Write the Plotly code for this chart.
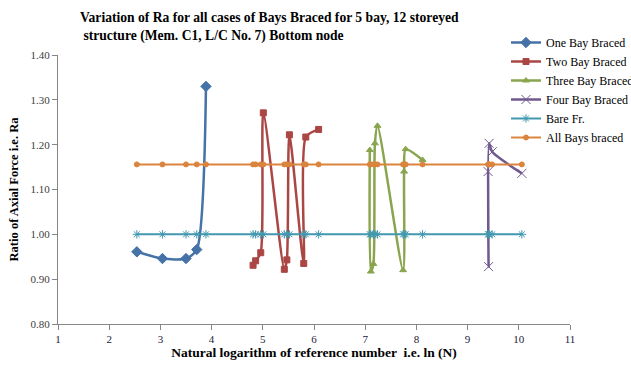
import plotly.graph_objects as go

one_x = [2.54, 3.04, 3.50, 3.71, 3.89]
one_y = [0.961, 0.946, 0.946, 0.966, 1.330]
two_x = [4.81, 4.86, 4.96, 5.01, 5.42, 5.47, 5.52, 5.80, 5.84, 6.09]
two_y = [0.931, 0.941, 0.959, 1.271, 0.922, 0.943, 1.222, 0.935, 1.217, 1.234]
three_x = [7.09, 7.11, 7.16, 7.19, 7.24, 7.74, 7.76, 7.79, 8.12]
three_y = [1.188, 0.917, 0.934, 1.203, 1.242, 0.920, 1.140, 1.190, 1.166]
four_x = [9.40, 9.41, 9.42, 9.48, 10.06]
four_y = [1.140, 0.928, 1.203, 1.184, 1.136]
bare_x = sorted(one_x + two_x + three_x + four_x)
bare_y = [1.00] * len(bare_x)
all_x = bare_x
all_y = [1.156] * len(all_x)

x_ticks = [1, 2, 3, 4, 5, 6, 7, 8, 9, 10, 11]
y_ticks = [0.80, 0.90, 1.00, 1.10, 1.20, 1.30, 1.40]

SERIF = "Liberation Serif"

fig = go.Figure()

def add(name, x, y, color, symbol, size, width=2.5):
    fig.add_trace(go.Scatter(
        x=x, y=y, name=name, mode="lines+markers",
        line=dict(color=color, width=width, shape="spline", smoothing=0.7),
        marker=dict(symbol=symbol, size=size, color=color,
                    line=dict(color=color, width=1)),
    ))

add("One Bay Braced", one_x, one_y, "#4572A7", "diamond", 8)
add("Two Bay Braced", two_x, two_y, "#AA4643", "square", 6)
add("Three Bay Braced", three_x, three_y, "#89A54E", "triangle-up", 6)
add("Four Bay Braced", four_x, four_y, "#71588F", "x-thin-open", 9)
add("Bare Fr.", bare_x, bare_y, "#4198AF", "asterisk-open", 7, width=2)
add("All Bays braced", all_x, all_y, "#DB843D", "circle", 5, width=2)

fig.update_layout(
    width=631, height=372,
    margin=dict(l=58, r=61, t=55, b=48, autoexpand=False),
    paper_bgcolor="white", plot_bgcolor="white",
    font=dict(family=SERIF, size=11, color="#000000"),
    title=dict(
        text="<b>Variation of Ra for all cases of Bays Braced for 5 bay, 12 storeyed<br> structure (Mem. C1, L/C No. 7) Bottom node</b>",
        x=80 / 631, xanchor="left", y=1 - 22 / 372, yanchor="top",
        font=dict(family=SERIF, size=13.6, color="#000000"),
    ),
    legend=dict(
        xref="container", yref="container",
        x=506 / 631, y=1 - 28 / 372, xanchor="left", yanchor="top",
        font=dict(family=SERIF, size=12, color="#000000"),
        bgcolor="rgba(255,255,255,0)", tracegroupgap=0,
    ),
    showlegend=True,
)

fig.update_xaxes(
    range=[1, 11], tickvals=x_ticks, ticktext=[str(v) for v in x_ticks],
    showgrid=False, zeroline=False, showline=True, linecolor="#868686", linewidth=1,
    ticks="outside", ticklen=5, tickcolor="#868686",
    tickfont=dict(family=SERIF, size=11, color="#1a1a3a"),
    title=dict(text="<b>Natural logarithm of reference number  i.e. ln (N)</b>",
               font=dict(family=SERIF, size=13.5, color="#000000"), standoff=2),
)
fig.update_yaxes(
    range=[0.80, 1.40], tickvals=y_ticks, ticktext=["%.2f" % v for v in y_ticks],
    showgrid=False, zeroline=False, showline=True, linecolor="#868686", linewidth=1,
    ticks="outside", ticklen=5, tickcolor="#868686",
    tickfont=dict(family=SERIF, size=11, color="#404040"),
    title=dict(text="<b>Ratio of Axial Force i.e. Ra</b>",
               font=dict(family=SERIF, size=12.5, color="#000000"), standoff=9),
)

fig.write_html("out.html", config={"displayModeBar": False},
               post_script="document.body.style.margin='0';")
